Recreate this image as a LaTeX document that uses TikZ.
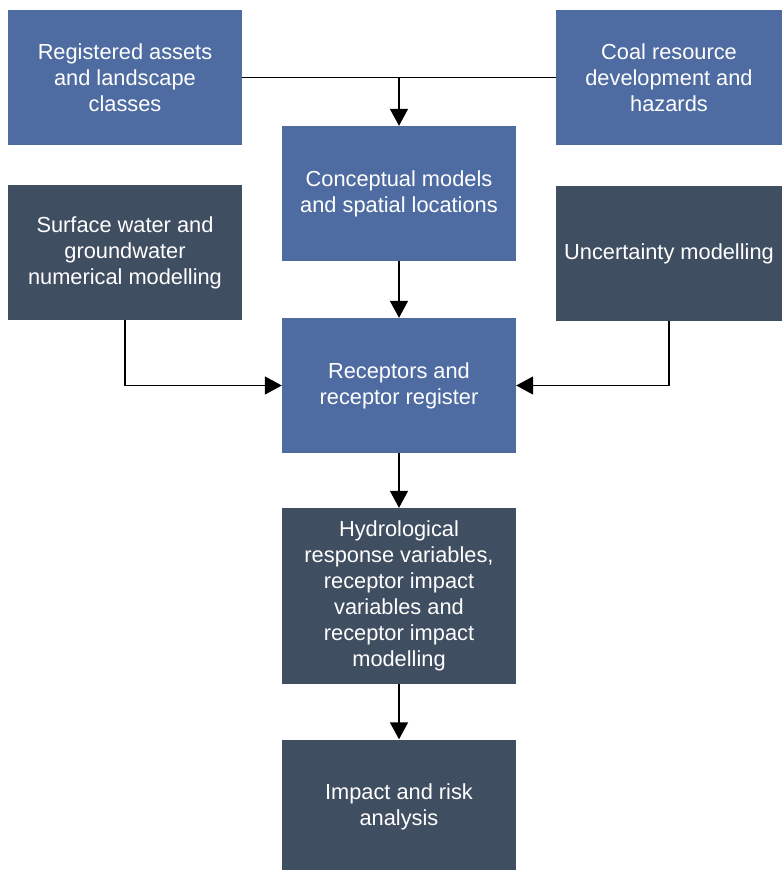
\documentclass[tikz,border=0pt]{standalone}
\usepackage{fontspec}
\setmainfont{Liberation Sans}
\usetikzlibrary{arrows.meta}
\definecolor{stepblue}{HTML}{4E6CA1}
\definecolor{stepslate}{HTML}{404E61}
\tikzset{
  box/.style={minimum width=234pt, minimum height=135pt, inner sep=0pt,
    text=white, align=center, font=\fontsize{21.8pt}{26pt}\selectfont},
  lightbox/.style={box, fill=stepblue},
  darkbox/.style={box, fill=stepslate},
  link/.style={line width=1.6pt, draw=black},
  arrowlink/.style={link, -{Triangle[length=17pt,width=18pt]}}
}
\begin{document}
\begin{tikzpicture}[x=1pt,y=-1pt]
  \useasboundingbox (0,0) rectangle (782,870);
  \clip (0,0) rectangle (782,870);
  % top row: inputs
  \node[lightbox] (assets) at (125,77.5) {Registered assets\\and landscape\\classes};
  \node[lightbox, minimum width=226pt] (coal) at (669,77.5) {Coal resource\\development and\\hazards};
  % central column
  \node[lightbox] (concept) at (399,193.5) {Conceptual models\\and spatial locations};
  \node[lightbox] (receptors) at (399,385.5) {Receptors and\\receptor register};
  \node[darkbox, minimum height=176pt] (hydro) at (399,596) {Hydrological\\response variables,\\receptor impact\\variables and\\receptor impact\\modelling};
  \node[darkbox] (risk) at (399,807) {Impact and risk\\analysis};
  % side modelling boxes
  \node[darkbox] (surface) at (125,252.5) {Surface water and\\groundwater\\numerical modelling};
  \node[darkbox, minimum width=226pt] (uncert) at (669,253.5) {Uncertainty modelling};
  % connectors
  \coordinate (join) at (concept.north |- assets.east);
  \draw[link] (assets.east) -- (coal.west);
  \draw[arrowlink] (join) -- (concept.north);
  \draw[arrowlink] (concept.south) -- (receptors.north);
  \draw[arrowlink] (surface.south) |- (receptors.west);
  \draw[arrowlink] (uncert.south) |- (receptors.east);
  \draw[arrowlink] (receptors.south) -- (hydro.north);
  \draw[arrowlink] (hydro.south) -- (risk.north);
\end{tikzpicture}
\end{document}
